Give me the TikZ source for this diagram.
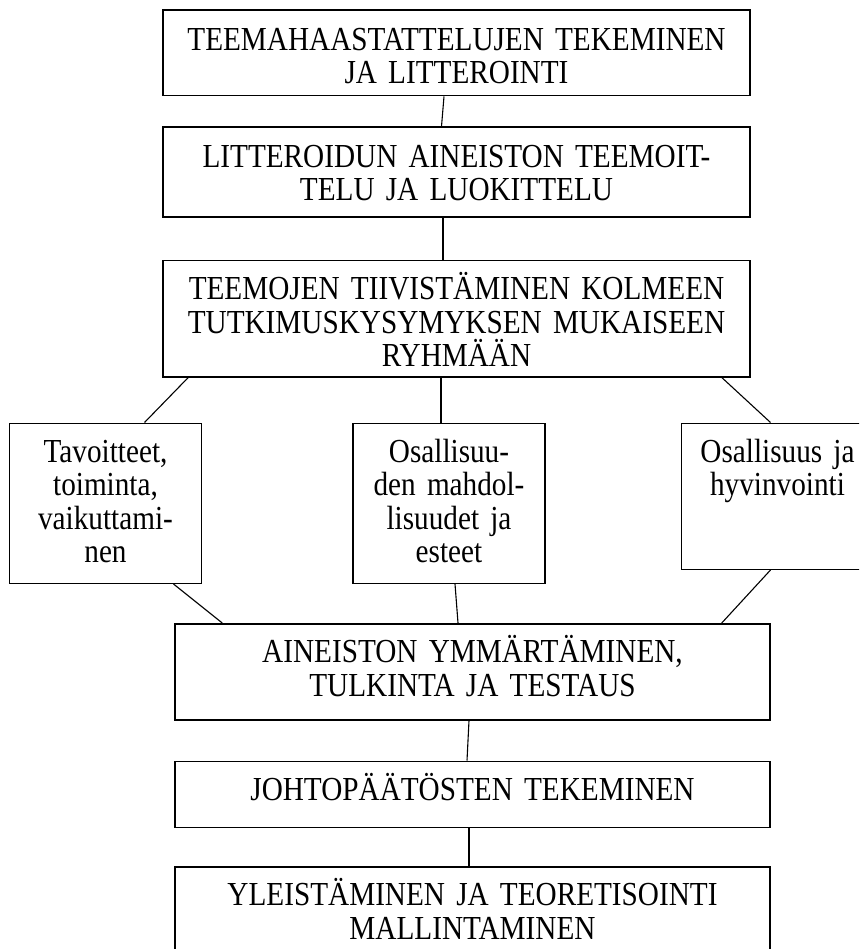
\documentclass[tikz,border=0pt]{standalone}
\usepackage{fontspec}
\setmainfont[FakeStretch=0.87]{Liberation Serif}
\usetikzlibrary{positioning}

\begin{document}
\begin{tikzpicture}[
    x=1pt, y=-1pt,
    box/.style={rectangle, draw, line width=1.5pt, inner sep=0pt, align=center, text height=39pt, font=\fontsize{33.6}{33.5}\selectfont},
    wide/.style={box, text width=587pt},
    wider/.style={box, text width=595pt},
    small/.style={box, text width=192pt},
    link/.style={line width=1.1pt}
]
\clip (0,0) rectangle (859,949);
\node[wide, text height=40pt, text depth=45.7pt, anchor=north] (interviews) at (456.5,9.3) {TEEMAHAASTATTELUJEN TEKEMINEN\\JA LITTEROINTI};
\node[wide, text height=40pt, text depth=50pt, below=30pt of interviews] (coding) {LITTEROIDUN AINEISTON TEEMOIT-\\TELU JA LUOKITTELU};
\node[wide, text depth=77pt, below=42pt of coding] (themes) {TEEMOJEN TIIVISTÄMINEN KOLMEEN\\TUTKIMUSKYSYMYKSEN MUKAISEEN\\RYHMÄÄN};

% three research questions
\node[small, text depth=121pt, below=45pt of themes, xshift=-7.5pt] (chances) {Osallisuu-\\den mahdol-\\lisuudet ja\\esteet};
\node[small, text depth=121pt, left=150pt of chances] (goals) {Tavoitteet,\\toiminta,\\vaikuttami-\\nen};
\node[small, text depth=107pt, right=135pt of chances.north east, anchor=north west] (welfare) {Osallisuus ja\\hyvinvointi};

\node[wider, text depth=57pt, below=39pt of chances, xshift=23.5pt] (understanding) {AINEISTON YMMÄRTÄMINEN,\\TULKINTA JA TESTAUS};
\node[wider, text depth=27pt, below=40pt of understanding] (conclusions) {JOHTOPÄÄTÖSTEN TEKEMINEN};
\node[wider, text depth=56pt, below=38pt of conclusions] (generalising) {YLEISTÄMINEN JA TEORETISOINTI\\MALLINTAMINEN};

\draw[link] ([xshift=-12.5pt]interviews.south) -- ([xshift=-15pt]coding.north);
\draw[link] ([xshift=-13.5pt]coding.south) -- ([xshift=-13.5pt]themes.north);
\draw[link] ([xshift=26pt]themes.south west) -- ([xshift=39pt]goals.north);
\draw[link] ([xshift=-15.5pt]themes.south) -- ([xshift=-8pt]chances.north);
\draw[link] ([xshift=-29pt]themes.south east) -- ([xshift=-7pt]welfare.north);

% back together
\draw[link] ([xshift=68pt]goals.south) -- ([xshift=48pt]understanding.north west);
\draw[link] ([xshift=6pt]chances.south) -- ([xshift=-14.5pt]understanding.north);
\draw[link] ([xshift=-7pt]welfare.south) -- ([xshift=-49pt]understanding.north east);
\draw[link] ([xshift=-3.5pt]understanding.south) -- ([xshift=-5.5pt]conclusions.north);
\draw[link] ([xshift=-3.5pt]conclusions.south) -- ([xshift=-3.5pt]generalising.north);
\end{tikzpicture}
\end{document}
